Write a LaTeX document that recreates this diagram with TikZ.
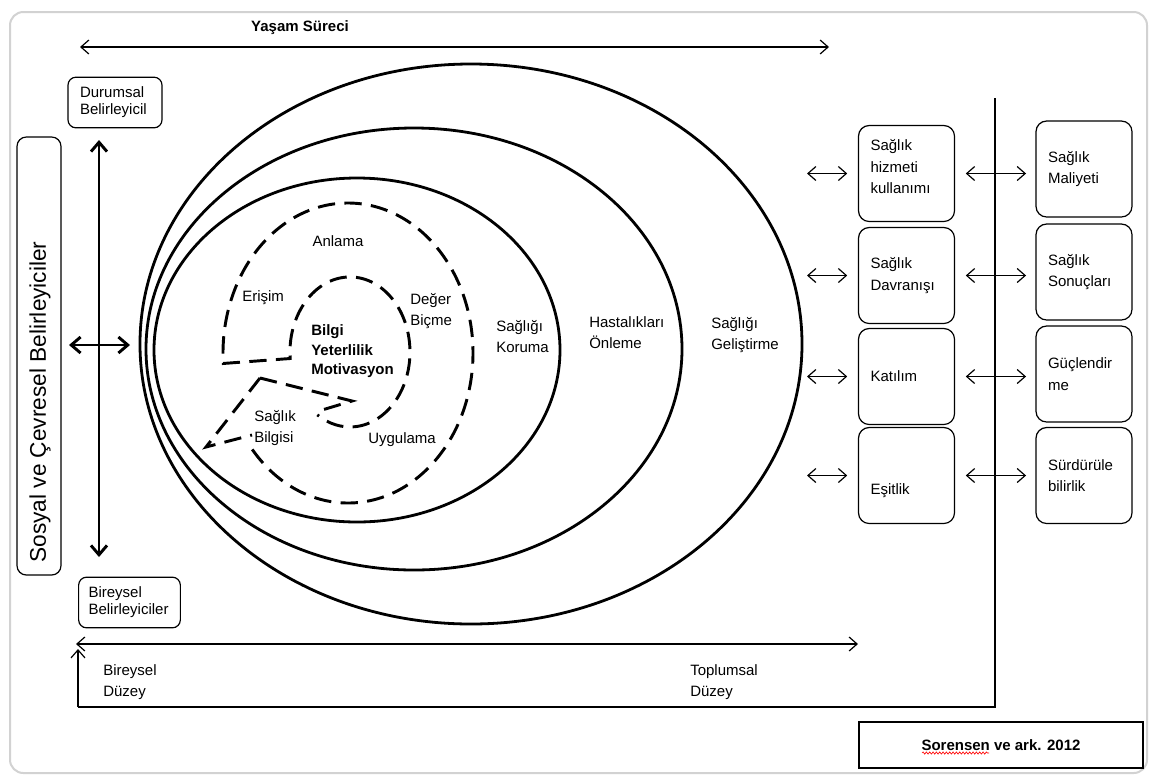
\documentclass[tikz,border=0pt]{standalone}
\usepackage{fontspec}
\setmainfont{Liberation Sans}
\usetikzlibrary{arrows.meta,decorations.pathmorphing}

\tikzset{
  halka/.style={line width=2.1pt},
  kesik/.style={line width=2.2pt, dash pattern=on 13pt off 7pt},
  ince/.style={line width=0.9pt},
  ciftok/.style={ince, {Straight Barb[length=6pt,width=10.5pt]}-{Straight Barb[length=6pt,width=10.5pt]}},
  tekok/.style={ince, -{Straight Barb[length=6pt,width=10.5pt]}},
  kalinok/.style={line width=2.2pt, {Straight Barb[length=7pt,width=12pt]}-{Straight Barb[length=7pt,width=12pt]}},
  yazi/.style={font=\fontsize{11.25}{15.75}\selectfont, align=left, inner sep=0pt},
  kutu/.style={draw, ince, rounded corners=8pt, align=left, inner xsep=9pt, inner ysep=0pt,
    text width=54pt, minimum height=72pt, font=\fontsize{11.25}{16}\selectfont},
  ucbox/.style={draw, ince, rounded corners=6pt, align=left, inner xsep=9pt, inner ysep=0pt,
    text width=52.5pt, minimum height=38pt, font=\fontsize{11.25}{12.75}\selectfont}
}

\begin{document}
\begin{tikzpicture}[x=0.75pt,y=0.75pt,yscale=-1,xscale=1]
\useasboundingbox (0,0) rectangle (1153,776);
\fill[white] (0,0) rectangle (1153,776);

%Frame
\draw[gray!35, line width=1.5pt, rounded corners=10pt] (10,12) rectangle (1147,773);

%Ellipses
\draw[halka] (471,344) ellipse [x radius=331, y radius=280];
\draw[halka] (414,349) ellipse [x radius=268, y radius=221];
\draw[halka] (357,350) ellipse [x radius=203, y radius=172];

%Dashed rings
\draw[kesik] (348,353) ++(140:125 and 150) arc [start angle=140, end angle=-184, x radius=125, y radius=150]
  -- (290.2,358.5) arc [start angle=175, end angle=483, x radius=60, y radius=75];
\coordinate (uc) at (260,378);
\coordinate (uc2) at (206,447);
\draw[kesik] (uc) -- (352,401) -- (322,410);
\draw[kesik] (uc) -- (uc2) -- (252,435);

% Text Node
\node[yazi] (anlama) at (338,241) {Anlama};
\node[yazi, anchor=west] (erisim) at (242,298) {Erişim};
\node[yazi, anchor=west] (deger) at (410,311.5) {Değer\\Biçme};
\node[yazi, anchor=west, font=\bfseries\fontsize{11.25}{14.6}\selectfont] (bym) at (311,351.5) {Bilgi\\Yeterlilik\\Motivasyon};
\node[yazi, anchor=west] (sbilgi) at (254,428.5) {Sağlık\\Bilgisi};
\node[yazi, anchor=west] (uygulama) at (368,440) {Uygulama};
\node[yazi, anchor=west] (koruma) at (496,336.5) {Sağlığı\\Koruma};
\node[yazi, anchor=west] (onleme) at (589,332.5) {Hastalıkları\\Önleme};
\node[yazi, anchor=west] (gelistirme) at (711,335) {Sağlığı\\Geliştirme};

%Top arrow
\node[yazi, font=\bfseries\fontsize{11.25}{14}\selectfont] (yasam) at (300,28) {Yaşam Süreci};
\coordinate (ysol) at (80,47);
\coordinate (ysag) at (829,47);
\draw[ciftok] (ysol) -- (ysag);

%Left side
\node[ucbox] (durum) at (115,102.5) {Durumsal\\Belirleyicil};
\node[ucbox, text width=61.5pt, inner xsep=7.4pt] (birey) at (129.5,602.5) {Bireysel\\Belirleyiciler};
\node[draw, ince, rounded corners=7pt, minimum width=33pt, minimum height=328.5pt] (sosyal) at (39,356) {};
\node[rotate=90, inner sep=0pt, font=\fontsize{17}{20}\selectfont] (sosyalyazi) at (40,402) {Sosyal ve Çevresel Belirleyiciler};
\coordinate (dikust) at (99,140);
\coordinate (dikalt) at (99,557);
\draw[kalinok] (dikust) -- (dikalt);
\coordinate (yatsol) at (69,345);
\coordinate (yatsag) at (130,345);
\draw[kalinok] (yatsol) -- (yatsag);

%Bottom
\coordinate (tsol) at (76,644);
\coordinate (tsag) at (858,644);
\draw[ciftok] (tsol) -- (tsag);
\coordinate (kose) at (78,707);
\coordinate (kuzey) at (78,649);
\draw[tekok] (kose) -- (kuzey);
\coordinate (sagalt) at (995,707);
\coordinate (sagust) at (995,98);
\draw[ince] (kose) -- (sagalt) -- (sagust);
\node[yazi, anchor=west] (bdz) at (103,682) {Bireysel\\Düzey};
\node[yazi, anchor=west] (tdz) at (690,682) {Toplumsal\\Düzey};

%Right boxes
\node[kutu] (h1) at (906.5,173.5) {\raisebox{5pt}[\height][\depth]{\parbox{54pt}{Sağlık\\hizmeti\\kullanımı}}};
\node[kutu] (h2) at (906.5,275.5) {Sağlık\\Davranışı};
\node[kutu] (h3) at (906.5,376.5) {Katılım};
\node[kutu] (h4) at (906.5,475.5) {\raisebox{-11pt}[\height][\depth]{Eşitlik}};
\node[kutu] (m1) at (1084,169) {Sağlık\\Maliyeti};
\node[kutu] (m2) at (1084,272) {Sağlık\\Sonuçları};
\node[kutu] (m3) at (1084,374) {Güçlendir\\me};
\node[kutu] (m4) at (1084,475.5) {Sürdürüle\\bilirlik};

\foreach \i in {1,...,4} {
  \coordinate (a\i) at (h\i.west -| 807,0);
  \draw[ciftok, shorten >=8pt] (a\i) -- (h\i.west);
  \draw[ciftok, shorten <=8pt, shorten >=7pt] (h\i.east) -- (h\i.east -| m\i.west);
}

%Source
\node[draw, ince, minimum width=213pt, minimum height=34.5pt, font=\bfseries\fontsize{11.25}{14}\selectfont] (kaynak) at (1001,745) {Sorensen ve ark. 2012};
\coordinate (dalga1) at (922,753);
\coordinate (dalga2) at (989,753);
\draw[red, line width=0.5pt, decorate, decoration={snake, amplitude=0.8pt, segment length=2.5pt}] (dalga1) -- (dalga2);

\end{tikzpicture}
\end{document}
